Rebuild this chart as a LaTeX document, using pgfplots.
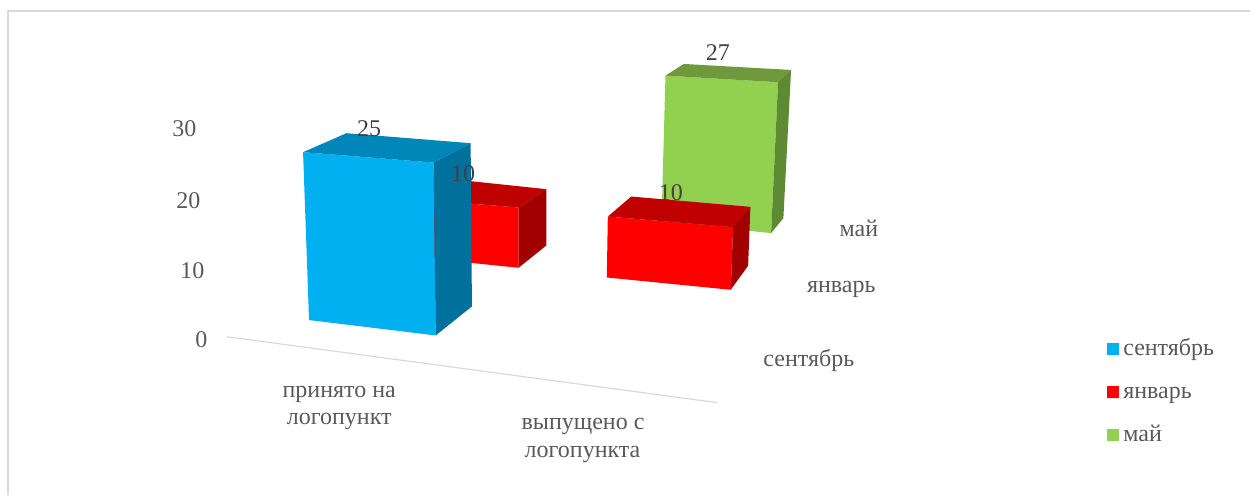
\documentclass[border=0pt]{standalone}
\usepackage{pgfplots}
\pgfplotsset{compat=1.18}
\usepackage{fontspec}
\setmainfont{Liberation Serif}
\definecolor{txt}{HTML}{595959}
\definecolor{lab}{HTML}{404040}
\definecolor{grid}{HTML}{D9D9D9}
\definecolor{bF}{HTML}{00B0F0}\definecolor{bT}{HTML}{0086B8}\definecolor{bS}{HTML}{00709C}
\definecolor{rF}{HTML}{FF0000}\definecolor{rT}{HTML}{C00000}\definecolor{rS}{HTML}{A20000}
\definecolor{gF}{HTML}{92D050}\definecolor{gT}{HTML}{70993D}\definecolor{gS}{HTML}{5E8A33}
\tikzset{
  tx/.style={anchor=base, text=txt, font=\fontsize{24}{26}\selectfont, inner sep=0pt, yshift=-1pt, xshift=0.5pt},
  dl/.style={anchor=base, text=lab, font=\fontsize{24}{26}\selectfont, inner sep=0pt, yshift=-1pt, xshift=0.5pt},
}
\pgfplotsset{face/.style={fill=#1, draw=none, forget plot}}
\begin{document}
\begin{tikzpicture}
\begin{axis}[
  scale only axis, width=1251pt, height=495pt,
  xmin=0, xmax=1251, ymin=0, ymax=495, y dir=reverse,
  hide axis, clip=false,
  legend style={at={(axis cs:1108,341)}, anchor=north west, draw=none, fill=none, inner sep=0pt,
    font=\fontsize{24}{26}\selectfont, text=txt,
    row sep=23pt,
    nodes={inner sep=0pt, text height=15pt, text depth=5pt, anchor=base west}},
  legend cell align=left,
  legend image code/.code={\fill[#1] (0pt,1pt) rectangle (12pt,13pt);\path (0pt,0pt) -- (16pt,0pt);},
]
% page extent
\addplot[draw=none, forget plot] coordinates {(0,0) (1251,495)};
% frame
\addplot[color=grid, line width=2pt, forget plot] coordinates {(8,495) (8,11) (1251,11)};
% floor line
\addplot[color=grid, line width=1.2pt, forget plot] coordinates {(227,337) (718,403)};
% green bar (май, 27)
\addplot[face=gF] coordinates {(666,75.7) (778.7,82.3) (771.7,233.3) (662,222)} --cycle;
\addplot[face=gT] coordinates {(666,75.7) (684.3,64) (791.7,70) (778.7,82.3)} --cycle;
\addplot[face=gS] coordinates {(778.7,82.3) (791.7,70) (784,218.3) (771.7,233.3)} --cycle;
% red bar, first category (январь, 10)
\addplot[face=rF] coordinates {(400,198) (519,207.7) (519,268) (403,256)} --cycle;
\addplot[face=rT] coordinates {(400,198) (430,177) (546.7,189.3) (519,207.7)} --cycle;
\addplot[face=rS] coordinates {(519,207.7) (546.7,189.3) (546.7,245.7) (519,268)} --cycle;
% red bar, second category (январь, 10)
\addplot[face=rF] coordinates {(608.3,216.7) (733.7,227.3) (731.3,290) (607.3,277.7)} --cycle;
\addplot[face=rT] coordinates {(608.3,216.7) (631.7,196.7) (751,207) (733.7,227.3)} --cycle;
\addplot[face=rS] coordinates {(733.7,227.3) (751,207) (748.7,266) (731.3,290)} --cycle;
% blue bar (сентябрь, 25)
\addplot[face=bF] coordinates {(303.3,152.3) (434,162.7) (436,335.7) (309.3,320.3)} --cycle;
\addplot[face=bT] coordinates {(303.3,152.3) (346.7,133.3) (471,143.3) (434,162.7)} --cycle;
\addplot[face=bS] coordinates {(434,162.7) (471,143.3) (472.3,306.7) (436,335.7)} --cycle;
% legend
\addlegendimage{fill=bF, draw=none}\addlegendentry{сентябрь}
\addlegendimage{fill=rF, draw=none}\addlegendentry{январь}
\addlegendimage{fill=gF, draw=none}\addlegendentry{май}
% value axis labels
\node[tx] at (axis cs:184,136) {30};
\node[tx] at (axis cs:188,208) {20};
\node[tx] at (axis cs:192,278) {10};
\node[tx] at (axis cs:201,347) {0};
% data labels
\node[dl] at (axis cs:369,135.5) {25};
\node[dl] at (axis cs:463,181) {10};
\node[dl] at (axis cs:671,200) {10};
\node[dl] at (axis cs:718,60) {27};
% depth axis labels
\node[tx] at (axis cs:859,236) {май};
\node[tx] at (axis cs:841.5,292) {январь};
\node[tx] at (axis cs:809,366) {сентябрь};
% category labels
\node[tx] at (axis cs:339,397) {принято на};
\node[tx] at (axis cs:339,424) {логопункт};
\node[tx] at (axis cs:583,429) {выпущено с};
\node[tx] at (axis cs:582.5,457) {логопункта};
\end{axis}
\end{tikzpicture}
\end{document}
